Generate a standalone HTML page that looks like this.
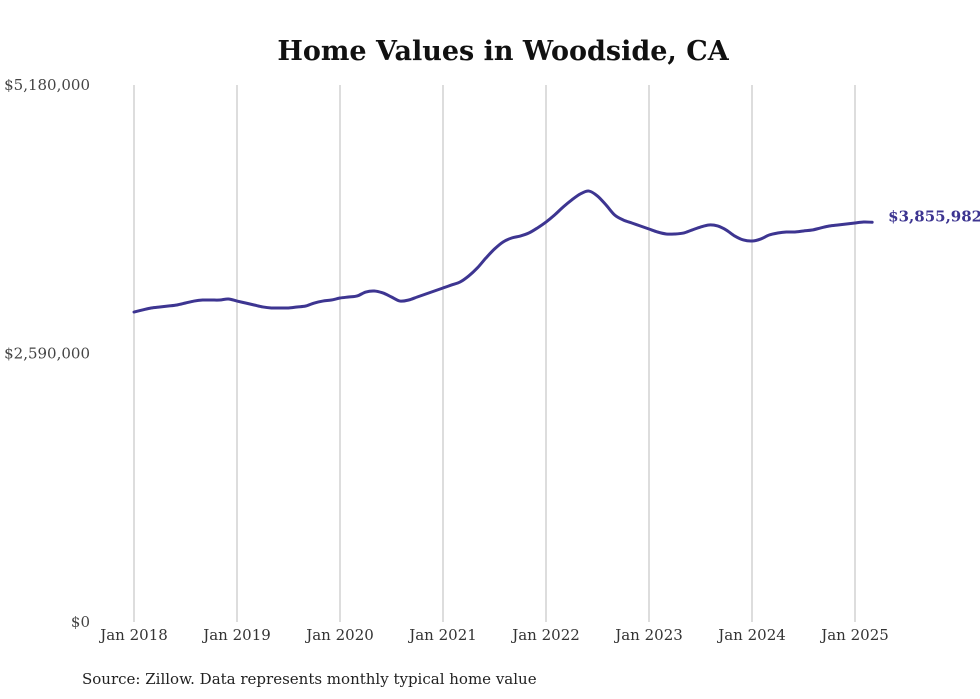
<!DOCTYPE html>
<html><head><meta charset="utf-8"><style>
body{margin:0;background:#fff;}
svg{display:block;font-family:"DejaVu Serif","Liberation Serif",serif;}
</style></head><body>
<svg id="chart" width="980" height="699">
<text x="503" y="60" text-anchor="middle" font-size="27" font-weight="bold" fill="#111">Home Values in Woodside, CA</text>
<g id="grid"></g><g id="yticks"></g><g id="xticks"></g>
<path id="line" fill="none" stroke="#3d3591" stroke-width="3" stroke-linejoin="round" stroke-linecap="round"></path>
<text id="lastLabel" font-size="15" font-weight="bold" fill="#3d3591"></text>
<text x="82" y="684" font-size="15" fill="#222">Source: Zillow. Data represents monthly typical home value</text>
</svg>
<script>
const yearLabels=["Jan 2018","Jan 2019","Jan 2020","Jan 2021","Jan 2022","Jan 2023","Jan 2024","Jan 2025"];
const yTickValues=[0,2590000,5180000];
const yTickLabels=["$0","$2,590,000","$5,180,000"];
const values=[2990,3010,3029,3039,3048,3058,3077,3096,3106,3106,3106,3116,
3096,3077,3058,3039,3029,3029,3029,3039,3048,3077,3096,3106,
3125,3135,3145,3183,3193,3174,3135,3096,3106,3135,3164,3193,
3222,3251,3280,3338,3415,3511,3598,3666,3704,3723,3752,3801,
3858,3926,4003,4071,4129,4157,4109,4022,3926,3878,3849,3820,
3791,3762,3743,3743,3752,3781,3810,3830,3820,3781,3723,3685,
3675,3694,3733,3752,3762,3762,3772,3781,3801,3820,3830,3839,
3849,3858,3855.982];
const lastLabel="$3,855,982";
const NS="http://www.w3.org/2000/svg";
const x0=134,xYear=103,yBase=622,yTop=85,yMax=5180000;
const xs=i=>x0+i*xYear/12;
const ys=v=>yBase-(v/yMax)*(yBase-yTop);
const g=document.getElementById('grid'),yt=document.getElementById('yticks'),xt=document.getElementById('xticks');
yearLabels.forEach((l,k)=>{
 const x=xs(k*12);
 const ln=document.createElementNS(NS,'line');
 
 
 ln.setAttribute('x1',x);ln.setAttribute('x2',x);ln.setAttribute('y1',yTop);ln.setAttribute('y2',yBase);
 ln.setAttribute('stroke','#bbb');ln.setAttribute('stroke-width','1');g.appendChild(ln);
 const t=document.createElementNS(NS,'text');
 
 
 t.setAttribute('x',x);t.setAttribute('y',640);t.setAttribute('text-anchor','middle');
 t.setAttribute('font-size','15');t.setAttribute('fill','#333');t.textContent=l;xt.appendChild(t);
});
yTickValues.forEach((v,k)=>{
 const t=document.createElementNS(NS,'text');
 
 
 t.setAttribute('x',90);t.setAttribute('y',ys(v)+5);t.setAttribute('text-anchor','end');
 t.setAttribute('font-size','15');t.setAttribute('fill','#444');t.textContent=yTickLabels[k];yt.appendChild(t);
});
const pts=values.map((v,i)=>[xs(i),ys(v*1000)]);
let d='M'+pts[0][0]+','+pts[0][1];
for(let i=0;i<pts.length-1;i++){
 const p0=pts[i-1]||pts[i],p1=pts[i],p2=pts[i+1],p3=pts[i+2]||p2;
 const c1=[p1[0]+(p2[0]-p0[0])/6,p1[1]+(p2[1]-p0[1])/6];
 const c2=[p2[0]-(p3[0]-p1[0])/6,p2[1]-(p3[1]-p1[1])/6];
 d+=` C${c1[0]},${c1[1]} ${c2[0]},${c2[1]} ${p2[0]},${p2[1]}`;
}
document.getElementById('line').setAttribute('d',d);
const last=pts[pts.length-1];
const lt=document.getElementById('lastLabel');
lt.setAttribute('x',last[0]+16);lt.setAttribute('y',last[1]-1);lt.textContent=lastLabel;
</script>
</body></html>
